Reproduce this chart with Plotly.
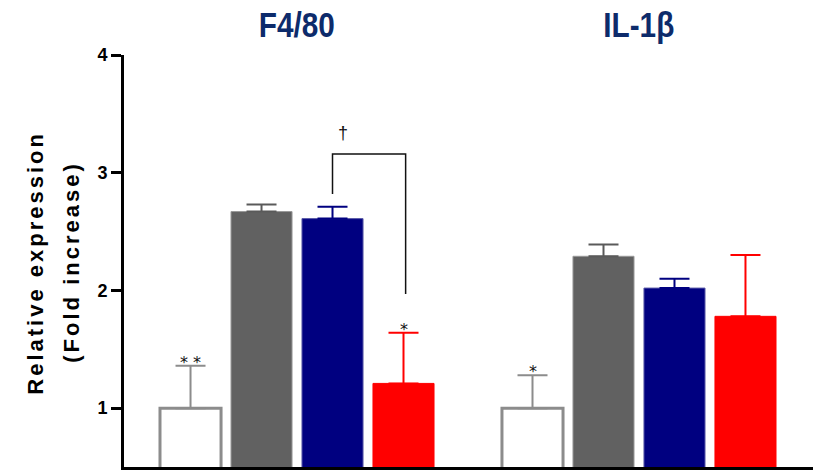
import plotly.graph_objects as go

# Marker genes shown as panel titles
genes = ["F4/80", "IL-1β"]

# Mean fold increase for each treatment group, per gene
white_vals = [1.00, 1.00]
gray_vals = [2.67, 2.29]
blue_vals = [2.61, 2.02]
red_vals = [1.21, 1.78]

# Upper error (SEM) for each bar
white_err = [0.36, 0.28]
gray_err = [0.06, 0.10]
blue_err = [0.10, 0.08]
red_err = [0.43, 0.52]

# Significance marks above bars
white_marks = ["* *", "*"]
red_marks = ["*", ""]

y_ticks = [1, 2, 3, 4]

GROUP_GAP = 4.817   # distance between the first bars of the two gene panels
BAR_W = 0.86

series = [
    dict(vals=white_vals, err=white_err, fill="#ffffff", edge="#8c8c8c", edge_w=3, err_col="#8c8c8c"),
    dict(vals=gray_vals, err=gray_err, fill="#616161", edge="#9a9a9a", edge_w=1, err_col="#5a5a5a"),
    dict(vals=blue_vals, err=blue_err, fill="#000080", edge="#5a5aa8", edge_w=1, err_col="#000080"),
    dict(vals=red_vals, err=red_err, fill="#ff0000", edge="#ff0000", edge_w=1, err_col="#ff0000"),
]

fig = go.Figure()
for i, s in enumerate(series):
    xs = [g * GROUP_GAP + i for g in range(len(genes))]
    fig.add_trace(go.Bar(
        x=xs, y=s["vals"], width=BAR_W,
        marker=dict(color=s["fill"], line=dict(color=s["edge"], width=s["edge_w"])),
        error_y=dict(type="data", array=s["err"], arrayminus=[0] * len(genes),
                     symmetric=False, width=15, thickness=2, color=s["err_col"]),
        showlegend=False, hoverinfo="skip",
    ))

annotations = []
# Gene titles over each panel
for g, name in enumerate(genes):
    annotations.append(dict(
        x=g * GROUP_GAP + 1.5, xref="x", y=1.073, yref="paper",
        text=f"<b>{name}</b>", showarrow=False, yanchor="middle",
        font=dict(family="Liberation Sans, Arial, sans-serif", size=35, color="#0d2b6b"),
    ))

star_font = dict(family="DejaVu Sans, sans-serif", size=16, color="#111")
# Significance stars
for g in range(len(genes)):
    top_w = white_vals[g] + white_err[g]
    if white_marks[g]:
        annotations.append(dict(x=g * GROUP_GAP + 0, y=top_w, xref="x", yref="y",
                                text=white_marks[g], showarrow=False, yanchor="bottom", yshift=-8,
                                font=star_font))
    top_r = red_vals[g] + red_err[g]
    if red_marks[g]:
        annotations.append(dict(x=g * GROUP_GAP + 3, y=top_r, xref="x", yref="y",
                                text=red_marks[g], showarrow=False, yanchor="bottom", yshift=-8,
                                font=star_font))

# Bracket between blue and red F4/80 bars
br_left, br_top, br_right = 2.82, 3.16, 1.97
annotations.append(dict(x=2.15, y=3.337, xref="x", yref="y", text="†", showarrow=False,
                        yanchor="middle", font=dict(family="Liberation Sans, Arial", size=18, color="#111")))

# Rotated y-axis title lines
for txt, xp in [("<b>Relative expression</b>", 35), ("<b>(Fold increase)</b>", 71)]:
    annotations.append(dict(
        x=(xp - 124) / 689, xref="paper", y=0.497, yref="paper",
        text=txt, textangle=-90, showarrow=False, xanchor="center", yanchor="middle",
        font=dict(family="Liberation Sans, Arial", size=22, color="#000"),
    ))

shapes = [dict(
    type="path", xref="x", yref="y",
    path=f"M 2,{br_left} L 2,{br_top} L 3.03,{br_top} L 3.03,{br_right}",
    line=dict(color="#111", width=1.5),
)]

fig.update_layout(
    width=815, height=474,
    margin=dict(l=124, r=2, t=55, b=7),
    plot_bgcolor="white", paper_bgcolor="white",
    barmode="overlay",
    annotations=annotations, shapes=shapes,
    xaxis=dict(range=[-0.937, 8.768], showgrid=False, zeroline=False,
               showticklabels=False, ticks="", showline=True, linecolor="black", linewidth=3),
    yaxis=dict(range=[0.5, 4], tickvals=y_ticks, showgrid=False, zeroline=False,
               showline=True, linecolor="black", linewidth=3,
               ticks="outside", ticklen=10, tickwidth=3, tickcolor="black",
               tickfont=dict(family="Liberation Sans, Arial", size=18, color="black", weight="bold"),
               ticklabelstandoff=0),
)

# Letter-spaced axis title and condensed panel titles
style_js = """
var gd = document.getElementById('{plot_id}');
var titleWidths = {'F4/80': 76, 'IL-1\\u03b2': 71};
function styleText(){
  gd.querySelectorAll('.annotation-text').forEach(function(t){
    var s = t.textContent;
    if (s.indexOf('expression') >= 0 || s.indexOf('increase') >= 0) { t.style.letterSpacing = '3px'; }
    if (titleWidths[s]) {
      t.setAttribute('textLength', titleWidths[s]);
      t.setAttribute('lengthAdjust', 'spacingAndGlyphs');
    }
  });
}
styleText();
gd.on('plotly_afterplot', styleText);
"""

fig.write_html("out.html", post_script=style_js)
